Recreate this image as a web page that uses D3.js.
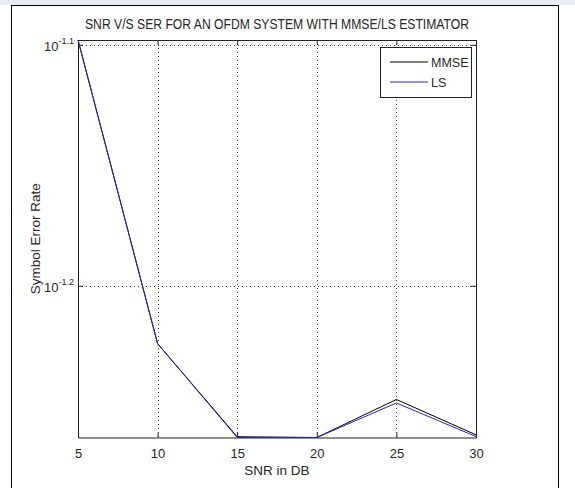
<!DOCTYPE html>
<html>
<head>
<meta charset="utf-8">
<script src="https://cdn.jsdelivr.net/npm/d3@7"></script>
<style>
body { margin: 0; background: #fff; }
text { font-family: "Liberation Sans", Arial, sans-serif; fill: #262626; }
</style>
</head>
<body>
<div id="container"></div>
<script>
// Data (SER values, log scale)
var snr = [5, 10, 15, 20, 25, 30];
var serMMSE = [0.0798, 0.0597, 0.05462, 0.05458, 0.05660, 0.05472];
var serLS = [0.0798, 0.0597, 0.05458, 0.05458, 0.05641, 0.05463];
var xTicks = [5, 10, 15, 20, 25, 30];
var yTickExps = ["-1.1", "-1.2"];
var legendNames = ["MMSE", "LS"];
var legendColors = ["#000000", "#2424c4"];

var width = 575, height = 488;
// plot box (note: "top" is reserved on window, so use ax* names)
var axLeft = 78, axRight = 476, axTop = 40, axBottom = 437.5;

var svg = d3.select("#container").append("svg")
  .attr("width", width)
  .attr("height", height);

// figure background + frame
svg.append("rect").attr("x", 0).attr("y", 0).attr("width", width).attr("height", 5)
  .attr("fill", "#e9edf3");
svg.append("rect")
  .attr("x", 11.5).attr("y", 5.5)
  .attr("width", 547).attr("height", 500)
  .attr("fill", "#fff").attr("stroke", "#000").attr("stroke-width", 1);

var x = d3.scaleLinear().domain(d3.extent(snr)).range([axLeft, axRight]);
var yDom = d3.extent(serMMSE.concat(serLS));
var y = d3.scaleLog().domain(yDom).range([axBottom, axTop]);

// grid (dotted)
var grid = svg.append("g").attr("stroke", "#444").attr("stroke-width", 1)
  .attr("stroke-dasharray", "1,3");
grid.selectAll("line.gx").data(xTicks.slice(1, -1)).enter().append("line")
  .attr("x1", function(d) { return Math.round(x(d)) + 0.5; })
  .attr("x2", function(d) { return Math.round(x(d)) + 0.5; })
  .attr("y1", axTop).attr("y2", axBottom);
grid.selectAll("line.gy").data(yTickExps).enter().append("line")
  .attr("x1", axLeft).attr("x2", axRight)
  .attr("y1", function(d) { return Math.round(y(Math.pow(10, +d))) + 0.5; })
  .attr("y2", function(d) { return Math.round(y(Math.pow(10, +d))) + 0.5; });

// axes box with inward ticks
var axB = d3.axisBottom(x).tickValues(xTicks).tickSizeInner(-5).tickSizeOuter(0).tickPadding(11);
var axT = d3.axisTop(x).tickValues(xTicks).tickSizeInner(-5).tickSizeOuter(0).tickFormat("");
var yVals = yTickExps.map(function(e) { return Math.pow(10, +e); });
var axL = d3.axisLeft(y).tickValues(yVals).tickSizeInner(-5).tickSizeOuter(0).tickFormat("");
var axR = d3.axisRight(y).tickValues(yVals).tickSizeInner(-5).tickSizeOuter(0).tickFormat("");

var gB = svg.append("g").attr("transform", "translate(0," + axBottom + ")").call(axB);
svg.append("g").attr("transform", "translate(0," + axTop + ")").call(axT);
svg.append("g").attr("transform", "translate(" + axLeft + ",0)").call(axL);
svg.append("g").attr("transform", "translate(" + axRight + ",0)").call(axR);
svg.selectAll(".domain").attr("stroke", "#222");
svg.selectAll(".tick line").attr("stroke", "#222");
gB.selectAll("text").attr("font-size", 13).attr("fill", "#262626")
  .attr("font-family", "Liberation Sans, Arial, sans-serif");

// y tick labels as 10^exp
var yl = svg.append("g");
yTickExps.forEach(function(e) {
  var yy = y(Math.pow(10, +e));
  var t = yl.append("text").attr("x", axLeft - 4).attr("y", yy + 6)
    .attr("text-anchor", "end").attr("font-size", 13);
  t.append("tspan").text("10");
  t.append("tspan").attr("dy", -7).attr("font-size", 9).text(e);
});

// series lines (LS drawn last, on top)
var line = d3.line()
  .x(function(d, i) { return x(snr[i]); })
  .y(function(d) { return y(d); });
svg.append("path").datum(serMMSE).attr("d", line)
  .attr("fill", "none").attr("stroke", legendColors[0]).attr("stroke-width", 1);
svg.append("path").datum(serLS).attr("d", line)
  .attr("fill", "none").attr("stroke", legendColors[1]).attr("stroke-width", 1);

// title and labels
svg.append("text").attr("x", (axLeft + axRight) / 2).attr("y", 29)
  .attr("text-anchor", "middle").attr("font-size", 14)
  .attr("textLength", 384).attr("lengthAdjust", "spacingAndGlyphs")
  .text("SNR V/S SER FOR AN OFDM SYSTEM WITH MMSE/LS ESTIMATOR");
svg.append("text").attr("x", (axLeft + axRight) / 2).attr("y", 475)
  .attr("text-anchor", "middle").attr("font-size", 13.5)
  .text("SNR in DB");
svg.append("text")
  .attr("transform", "translate(40," + ((axTop + axBottom) / 2) + ") rotate(-90)")
  .attr("text-anchor", "middle").attr("font-size", 13.5)
  .text("Symbol Error Rate");

// legend
var lgX = 380, lgY = 47, lgW = 91, lgH = 50;
var lg = svg.append("g");
lg.append("rect").attr("x", lgX + 0.5).attr("y", lgY + 0.5)
  .attr("width", lgW).attr("height", lgH)
  .attr("fill", "#fff").attr("stroke", "#222");
legendNames.forEach(function(n, i) {
  var ly = lgY + 15 + i * 20;
  lg.append("line").attr("x1", lgX + 10).attr("x2", lgX + 48)
    .attr("y1", ly).attr("y2", ly)
    .attr("stroke", legendColors[i]).attr("stroke-width", 1);
  lg.append("text").attr("x", lgX + 51).attr("y", ly + 5)
    .attr("font-size", 12.5).text(n);
});
</script>
</body>
</html>
